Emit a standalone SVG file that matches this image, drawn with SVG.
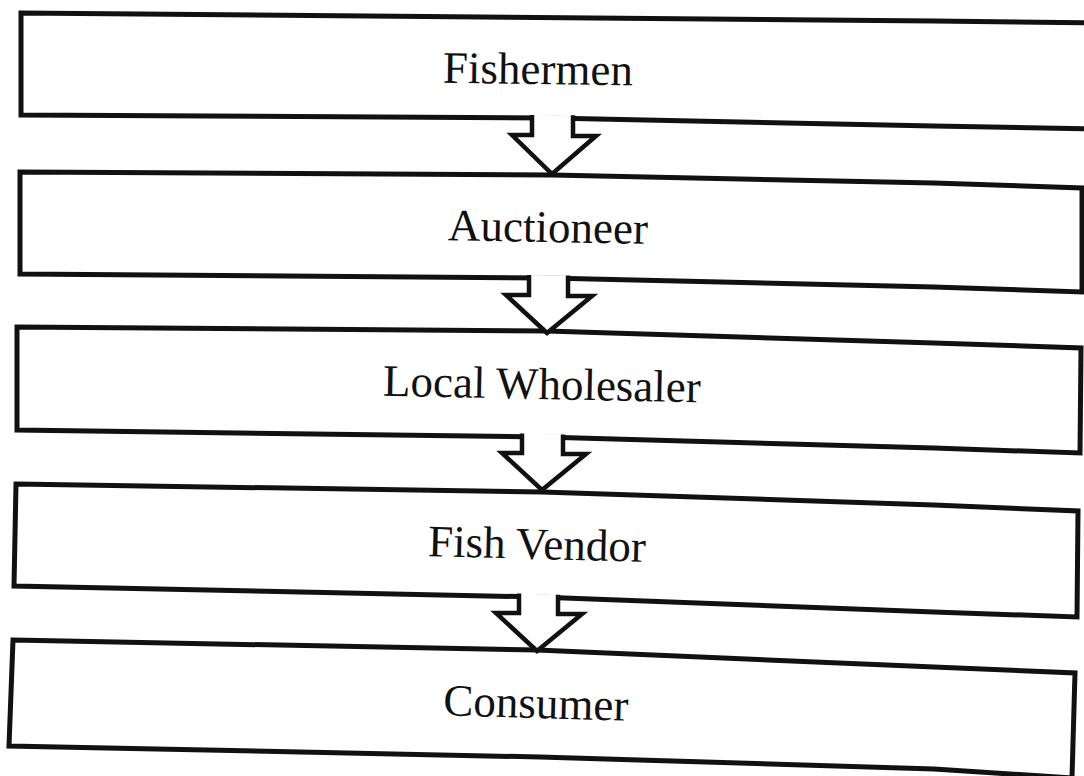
<svg xmlns="http://www.w3.org/2000/svg" width="1084" height="776" viewBox="0 0 1084 776">
<style>
.box{fill:#fff;stroke:#111;stroke-width:5;stroke-linejoin:miter}
.arr{fill:#fff;stroke:#111;stroke-width:4.5;stroke-linejoin:miter}
.lbl{font-family:"Liberation Serif","Times New Roman",serif;font-size:45px;fill:#111;text-anchor:middle}
</style>
<rect width="1084" height="776" fill="#fff"/>
<g id="fishermen">
<path class="box" d="M21,13 L934,21 L1095,23 L1095,129 L934,126 L550,118 L21,115 Z"/>
<text class="lbl" x="538" y="84" transform="rotate(0.8 538 70)">Fishermen</text>
</g>
<g id="auctioneer">
<path class="box" d="M20,172 L552,175 L934,183 L1082,188 L1082,292 L934,287 L548,278 L20,274 Z"/>
<text class="lbl" x="548" y="242" transform="rotate(1 548 227)">Auctioneer</text>
</g>
<g id="local-wholesaler">
<path class="box" d="M17,327 L547,331 L934,343 L1081,348 L1080,453 L934,448 L543,437 L17,430 Z"/>
<text class="lbl" x="542" y="399" transform="rotate(1.2 542 384)">Local Wholesaler</text>
</g>
<g id="fish-vendor">
<path class="box" d="M16,484 L542,492 L934,505 L1078,511 L1077,617 L934,612 L538,597 L14,586 Z"/>
<text class="lbl" x="537" y="559" transform="rotate(1.5 537 544)">Fish Vendor</text>
</g>
<g id="consumer">
<path class="box" d="M13,640 L537,650 L934,667 L1075,673 L1072,778 L934,769 L540,757 L9,746 Z"/>
<text class="lbl" x="536" y="718" transform="rotate(1.7 536 703)">Consumer</text>
</g>
<g id="connectors">
<path class="arr" d="M532,115 L532,135 L512,135 L552,174 L596,136 L573,136 L573,115.3"/>
<path class="arr" d="M529,275 L529,295 L506,295 L547,333 L592,296 L568,296 L568,275.5"/>
<path class="arr" d="M522,433.5 L522,453 L502,453 L542,490 L586,454 L563,454 L563,434.6"/>
<path class="arr" d="M519,593.6 L519,613 L496,613 L537,651 L582,614 L558,614 L558,594.8"/>
</g>
</svg>
